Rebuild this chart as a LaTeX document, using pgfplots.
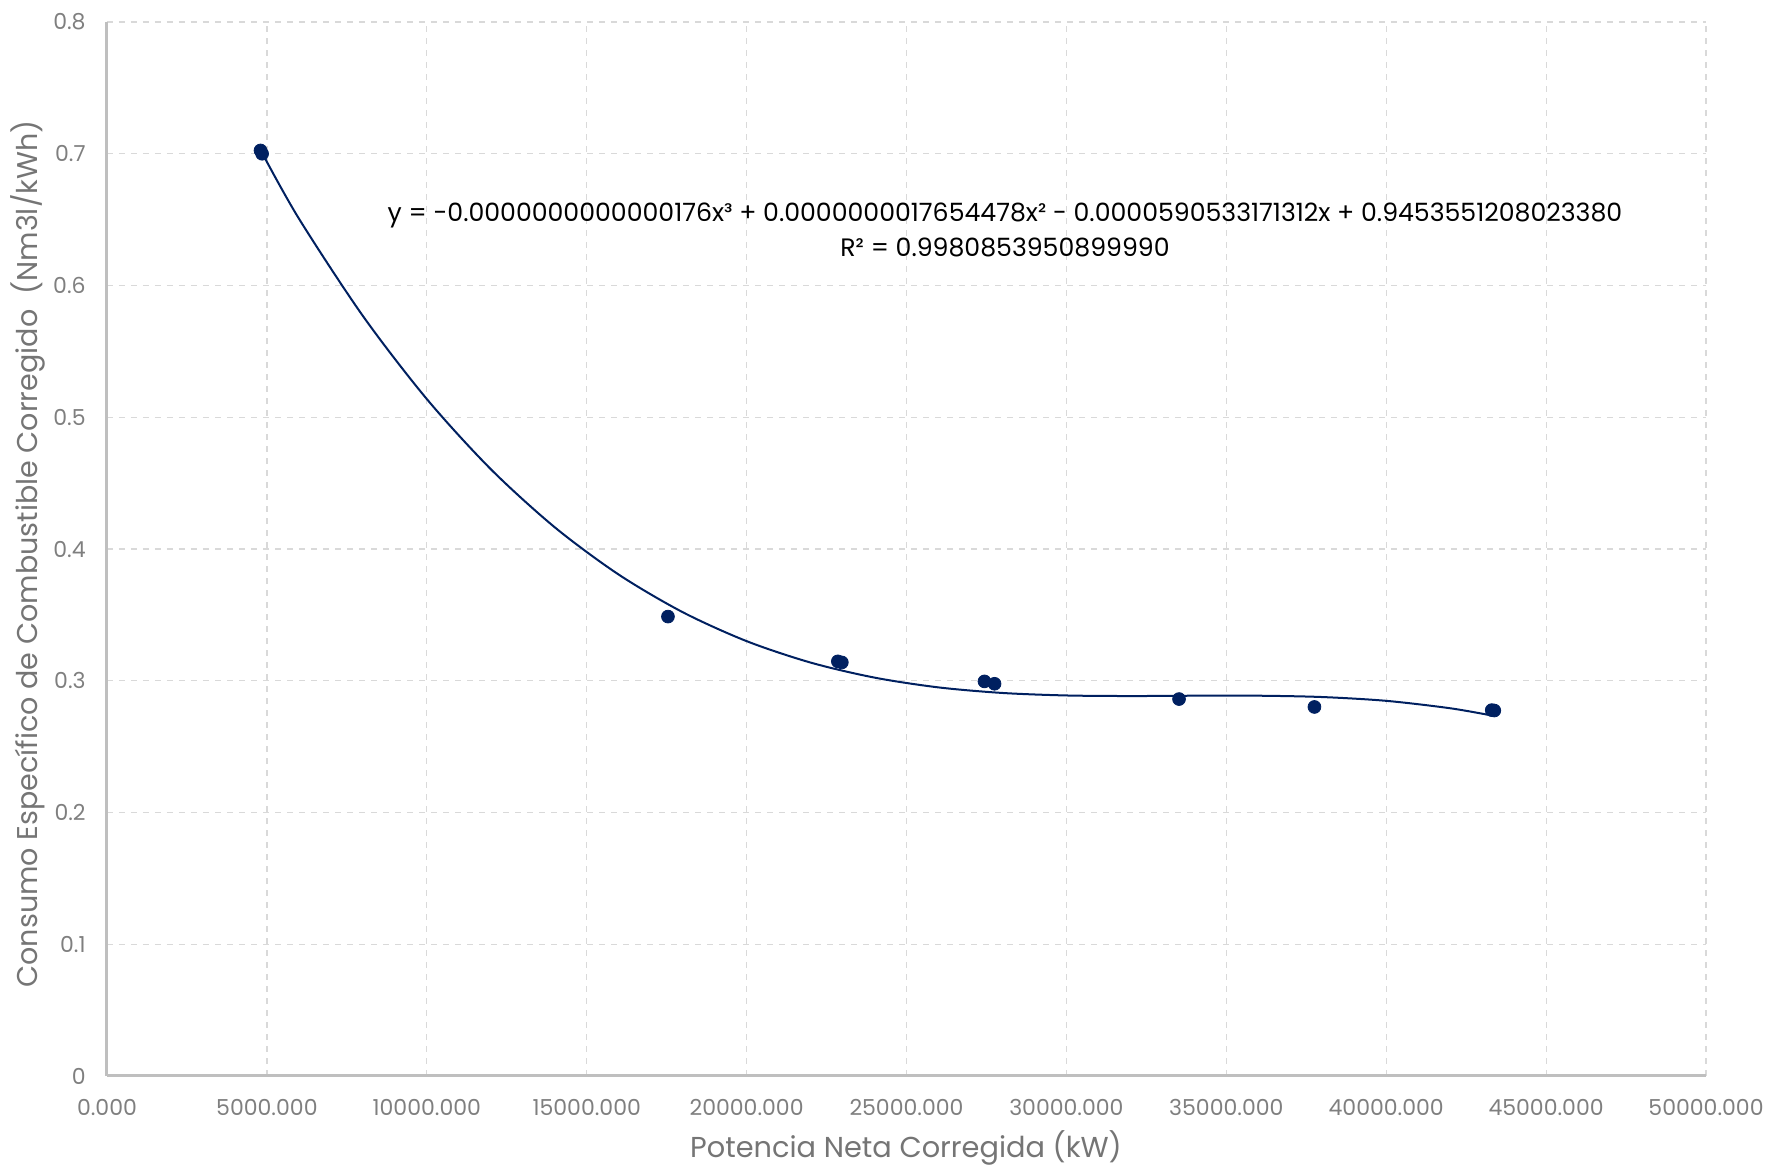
\documentclass[border=0pt]{standalone}
\usepackage{fontspec}
\setmainfont{Poppins}
\usepackage{pgfplots}
\pgfplotsset{compat=1.18}
\definecolor{navy}{HTML}{002060}
\definecolor{gridc}{HTML}{D9D9D9}
\definecolor{axc}{HTML}{BFBFBF}
\definecolor{tickc}{HTML}{7F7F7F}
\definecolor{labc}{HTML}{757575}
\begin{document}
\begin{tikzpicture}
\useasboundingbox (-53.5pt,-44.5pt) rectangle (831pt,538pt);
\begin{axis}[
  at={(0,0)}, anchor=south west,
  scale only axis, width=799.5pt, height=527pt,
  xmin=0, xmax=50000, ymin=0, ymax=0.8,
  xtick={0,5000,10000,15000,20000,25000,30000,35000,40000,45000,50000},
  xticklabels={0.000,5000.000,10000.000,15000.000,20000.000,25000.000,30000.000,35000.000,40000.000,45000.000,50000.000},
  ytick={0,0.1,0.2,0.3,0.4,0.5,0.6,0.7,0.8},
  yticklabels={0,0.1,0.2,0.3,0.4,0.5,0.6,0.7,0.8},
  scaled ticks=false,
  major tick length=0pt,
  axis x line*=bottom, axis y line*=left,
  axis line style={-, draw=axc, line width=1.5pt},
  grid=major,
  major grid style={dashed, draw=gridc, line width=0.6pt},
  xticklabel style={anchor=base, inner sep=0pt, yshift=-20pt, text=tickc, font=\fontsize{11}{13}\selectfont},
  yticklabel style={anchor=east, inner sep=0pt, xshift=-10.5pt, text=tickc, font=\fontsize{11}{13}\selectfont},
  clip=false,
]
\addplot[navy, line width=1pt, smooth] coordinates {
 (4850,0.70064) (6000,0.65081) (8000,0.57694) (10000,0.51383) (12000,0.46062)
 (14000,0.41649) (16000,0.38059) (18000,0.35206) (20000,0.33007) (22000,0.31380)
 (24000,0.30237) (26000,0.29495) (28000,0.29072) (30000,0.28882) (32000,0.28839)
 (34000,0.28863) (36000,0.28864) (38000,0.28763) (40000,0.28475) (42000,0.27912)
 (43350,0.27340)
};
\addplot[only marks, mark=*, mark size=3.2pt, navy, mark options={draw=navy, fill=navy}] coordinates {
 (4800,0.7025) (4850,0.7000)
 (17541,0.3487)
 (22853,0.3147) (22978,0.3139)
 (27438,0.2995) (27753,0.2977)
 (33522,0.2861)
 (37756,0.2801)
 (43300,0.2777) (43380,0.2774)
};
\end{axis}
\node[rotate=90, text=labc, font=\fontsize{14.3}{16}\selectfont] at (-39.5pt,261pt) {Consumo Específico de Combustible Corregido~~(Nm3l/kWh)};
\node[text=labc, font=\fontsize{14.4}{16}\selectfont] at (399.5pt,-36pt) {Potencia Neta Corregida (kW)};
\node[text=black, font=\fontsize{12.6}{14}\selectfont] at (449pt,430.5pt) {y = -0.0000000000000176x³ + 0.0000000017654478x² - 0.0000590533171312x + 0.9453551208023380};
\node[text=black, font=\fontsize{12.6}{14}\selectfont] at (449pt,414.5pt) {R² = 0.9980853950899990};
\end{tikzpicture}
\end{document}
